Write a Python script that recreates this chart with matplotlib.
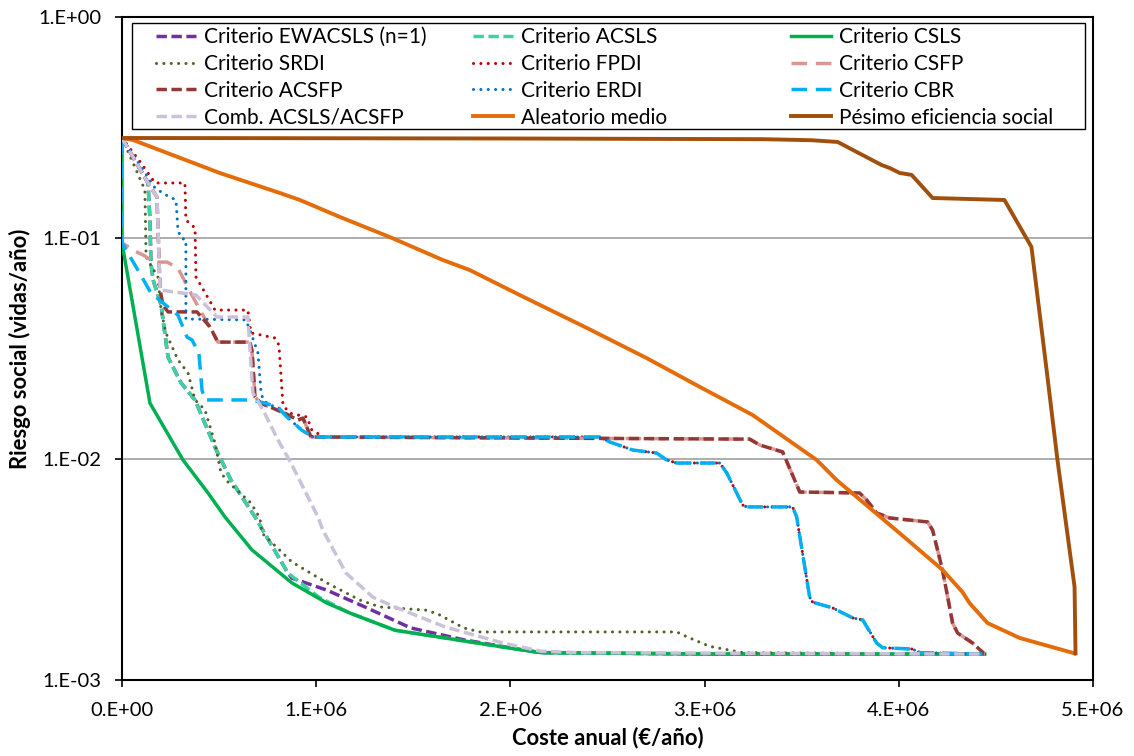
import numpy as np
import matplotlib
matplotlib.use("Agg")
import matplotlib.pyplot as plt
from matplotlib.legend import Legend
from matplotlib.patches import Rectangle
from matplotlib.ticker import FixedLocator, FuncFormatter, NullLocator

plt.rcParams['font.family'] = ['Lato', 'DejaVu Sans']

# Coste anual en millones de €/año, riesgo social en vidas/año

cost_ewacsls = [0, 0.134, 0.144, 0.149, 0.160, 0.201, 0.237, 0.304, 0.376, 0.479, 0.561, 0.685,
                0.854, 0.875, 1.055, 1.251, 1.487, 1.760, 2.059, 2.156, 3.062, 4.442]
risk_ewacsls = [0.2835, 0.1774, 0.1206, 0.0770, 0.0646, 0.0497, 0.0289, 0.0221, 0.0185, 0.0113, 0.00803, 0.00547,
                0.00305, 0.00289, 0.00255, 0.00214, 0.00172, 0.00152, 0.00137, 0.00133, 0.00131, 0.00131]

cost_acsls = [0, 0.134, 0.144, 0.149, 0.160, 0.201, 0.237, 0.304, 0.376, 0.479, 0.561, 0.685,
              0.854, 1.014, 1.173, 1.405, 1.662, 1.961, 2.156, 3.062, 4.442]
risk_acsls = [0.2835, 0.1774, 0.1206, 0.0770, 0.0646, 0.0497, 0.0289, 0.0221, 0.0185, 0.0113, 0.00803, 0.00547,
              0.00305, 0.00237, 0.00201, 0.00168, 0.00155, 0.00141, 0.00133, 0.00131, 0.00131]

cost_csls = [0, 0, 0.144, 0.314, 0.443, 0.530, 0.669, 0.875, 1.055, 1.173, 1.405, 1.662, 1.961, 2.156, 3.062, 4.442]
risk_csls = [0.2835, 0.0949, 0.0179, 0.0099, 0.00702, 0.00547, 0.00388, 0.00275, 0.00223, 0.00201, 0.00168,
             0.00155, 0.00141, 0.00133, 0.00131, 0.00131]

cost_srdi = [0, 0.118, 0.124, 0.185, 0.201, 0.226, 0.288, 0.340, 0.376, 0.427, 0.479, 0.510, 0.546, 0.664,
             0.710, 0.721, 0.875, 1.055, 1.225, 1.328, 1.565, 1.626, 1.760, 1.843, 2.856, 2.908, 3.026, 3.196, 4.442]
risk_srdi = [0.2835, 0.1649, 0.0820, 0.0666, 0.0472, 0.0372, 0.0281, 0.0245, 0.0185, 0.0167, 0.0118, 0.00865,
             0.00787, 0.00632, 0.00541, 0.00462, 0.00342, 0.00275, 0.00230, 0.00214, 0.00207, 0.00199, 0.00172,
             0.00165, 0.00165, 0.00157, 0.00142, 0.00133, 0.00131]

# tramo final compartido por los criterios FPDI, ERDI y CBR
cost_tail_b = [2.460, 2.512, 2.630, 2.753, 2.805, 2.856, 3.078, 3.114, 3.196, 3.217, 3.453, 3.474, 3.541,
               3.556, 3.659, 3.762, 3.814, 3.886, 3.917, 4.071, 4.107, 4.442]
risk_tail_b = [0.01258, 0.01194, 0.01098, 0.01064, 0.00990, 0.00959, 0.00959, 0.00865, 0.00619, 0.00607,
               0.00607, 0.00547, 0.00237, 0.00225, 0.00212, 0.00191, 0.00187, 0.00147, 0.00140, 0.00138,
               0.00133, 0.00131]

cost_fpdi = [0, 0.098, 0.170, 0.324, 0.329, 0.376, 0.381, 0.458, 0.479, 0.648, 0.664, 0.787, 0.808, 0.829,
             0.865, 0.952, 0.978, 1.040]
risk_fpdi = [0.2835, 0.2185, 0.1774, 0.1774, 0.1206, 0.1110, 0.0666, 0.0508, 0.0472, 0.0472, 0.0372, 0.0353,
             0.0328, 0.0175, 0.0161, 0.0155, 0.0135, 0.01258]

cost_erdi = [0, 0.170, 0.226, 0.278, 0.288, 0.304, 0.329, 0.329, 0.638, 0.664, 0.700, 0.715, 0.726, 0.762,
             0.803, 0.849, 0.926, 0.983]
risk_erdi = [0.2835, 0.1684, 0.1565, 0.1485, 0.1087, 0.1000, 0.0980, 0.0430, 0.0426, 0.0372, 0.0302, 0.0205,
             0.0185, 0.0175, 0.0172, 0.0155, 0.0135, 0.01258]

cost_cbr = [0, 0, 0.082, 0.149, 0.237, 0.288, 0.335, 0.360, 0.396, 0.412, 0.427, 0.664, 0.736, 0.803,
            0.849, 0.926, 0.983]
risk_cbr = [0.2835, 0.0949, 0.0716, 0.0564, 0.0487, 0.0448, 0.0356, 0.0346, 0.0302, 0.0205, 0.0185, 0.0185,
            0.0179, 0.0172, 0.0155, 0.0135, 0.01258]

# tramo final compartido por los criterios ACSFP y CSFP
cost_tail_a = [0.659, 0.669, 0.685, 0.715, 0.839, 0.906, 0.932, 0.973, 3.232, 3.284, 3.402, 3.490, 3.798,
               3.834, 3.886, 3.953, 4.148, 4.174, 4.225, 4.277, 4.303, 4.380, 4.442]
risk_tail_a = [0.0338, 0.0311, 0.0191, 0.0179, 0.0161, 0.0150, 0.0153, 0.01258, 0.0123, 0.01157, 0.01076,
               0.00709, 0.00702, 0.00653, 0.00570, 0.00541, 0.00519, 0.00477, 0.00315, 0.00181, 0.00163,
               0.00147, 0.00131]

cost_acsfp = [0, 0.134, 0.180, 0.196, 0.211, 0.237, 0.386, 0.453, 0.494]
risk_acsfp = [0.2835, 0.1774, 0.1533, 0.0582, 0.0497, 0.0463, 0.0463, 0.0396, 0.0338]

cost_csfp = [0, 0, 0.077, 0.118, 0.160, 0.232, 0.288, 0.365, 0.494]
risk_csfp = [0.2835, 0.0949, 0.0864, 0.0829, 0.0778, 0.0778, 0.0731, 0.0541, 0.0338]

cost_comb = [0, 0.134, 0.180, 0.196, 0.381, 0.489, 0.648, 0.674, 0.726, 0.803, 0.870, 1.009, 1.034, 1.153,
             1.292, 1.405, 1.662, 1.961, 2.156, 2.352, 4.442]
risk_comb = [0.2835, 0.1774, 0.1533, 0.0582, 0.0552, 0.0439, 0.0439, 0.0199, 0.0167, 0.0122, 0.00959,
             0.00547, 0.00477, 0.00305, 0.00237, 0.00214, 0.00174, 0.00147, 0.00135, 0.00133, 0.00131]

cost_aleatorio = [0, 0.057, 0.504, 0.813, 0.916, 1.122, 1.379, 1.652, 1.791, 2.048, 2.393, 2.702, 2.975,
                  3.248, 3.577, 3.680, 4.004, 4.225, 4.328, 4.364, 4.457, 4.622, 4.905]
risk_aleatorio = [0.2835, 0.2776, 0.1968, 0.1598, 0.1486, 0.1245, 0.1010, 0.0795, 0.0716, 0.0552, 0.0392,
                  0.0286, 0.0212, 0.0158, 0.0099, 0.00803, 0.00462, 0.00315, 0.00250, 0.00223, 0.00181,
                  0.00155, 0.00132]

cost_pesimo = [0, 2.0, 3.3, 3.55, 3.685, 3.911, 3.953, 4.004, 4.066, 4.174, 4.544, 4.683, 4.761, 4.817,
               4.905, 4.910]
risk_pesimo = [0.2835, 0.282, 0.280, 0.277, 0.272, 0.214, 0.2074, 0.197, 0.193, 0.1517, 0.1486, 0.0911,
               0.0253, 0.0099, 0.00264, 0.00132]

x_ticks = [0, 1e6, 2e6, 3e6, 4e6, 5e6]
y_ticks = [1e-3, 1e-2, 1e-1, 1e0]

DASH = (3.0, 1.3)
LONG_DASH = (4.5, 2.5)
DOT = (0.01, 2.4)

series = [
    ("Criterio EWACSLS (n=1)", cost_ewacsls, risk_ewacsls, "#7030A0", DASH, 2.5),
    ("Criterio ACSLS", cost_acsls, risk_acsls, "#3DD3A0", DASH, 2.5),
    ("Criterio CSLS", cost_csls, risk_csls, "#00B050", None, 2.5),
    ("Criterio SRDI", cost_srdi, risk_srdi, "#4F6228", DOT, 2.2),
    ("Criterio FPDI", cost_fpdi + cost_tail_b, risk_fpdi + risk_tail_b, "#C00000", DOT, 2.2),
    ("Criterio CSFP", cost_csfp + cost_tail_a, risk_csfp + risk_tail_a, "#DA9694", LONG_DASH, 2.5),
    ("Criterio ACSFP", cost_acsfp + cost_tail_a, risk_acsfp + risk_tail_a, "#953735", DASH, 2.5),
    ("Criterio ERDI", cost_erdi + cost_tail_b, risk_erdi + risk_tail_b, "#0070C0", DOT, 2.2),
    ("Criterio CBR", cost_cbr + cost_tail_b, risk_cbr + risk_tail_b, "#00B0F0", LONG_DASH, 2.5),
    ("Comb. ACSLS/ACSFP", cost_comb, risk_comb, "#CCC1DA", DASH, 2.5),
    ("Aleatorio medio", cost_aleatorio, risk_aleatorio, "#E46C0A", None, 2.8),
    ("Pésimo eficiencia social", cost_pesimo, risk_pesimo, "#A0500C", None, 2.8),
]

fig = plt.figure(figsize=(11.34, 7.56), dpi=100)
ax = fig.add_axes([122 / 1134, 1 - 680 / 756, (1093 - 122) / 1134, (680 - 17) / 756])

handles = []
for i, (label, xs, ys, color, dash, lw) in enumerate(series):
    xs = np.asarray(xs) * 1e6
    ys = np.asarray(ys)
    kw = dict(color=color, lw=lw, zorder=3 + i, solid_joinstyle='round')
    if dash is None:
        line, = ax.plot(xs, ys, ls='-', **kw)
    else:
        cap = 'round' if dash is DOT else 'butt'
        line, = ax.plot(xs, ys, ls=(0, dash), dash_capstyle=cap, **kw)
    handles.append(line)

ax.set_yscale('log')
ax.set_xlim(0, 5e6)
ax.set_ylim(1e-3, 1)


def sci_label(v, pos=None):
    if v == 0:
        return "0.E+00"
    exp = int(np.floor(np.log10(v) + 1e-9))
    mant = v / 10 ** exp
    return f"{mant:.0f}.E{exp:+03d}"


ax.xaxis.set_major_locator(FixedLocator(x_ticks))
ax.yaxis.set_major_locator(FixedLocator(y_ticks))
ax.yaxis.set_minor_locator(NullLocator())
ax.xaxis.set_major_formatter(FuncFormatter(sci_label))
ax.yaxis.set_major_formatter(FuncFormatter(sci_label))
ax.tick_params(axis='both', which='major', direction='out', length=5, width=1.2,
               labelsize=14.5, color='black')
ax.tick_params(axis='y', pad=10)
ax.tick_params(axis='x', pad=11)
ax.grid(axis='y', which='major', color='#A6A6A6', lw=1.3, zorder=1)
for sp in ax.spines.values():
    sp.set_color('black')
    sp.set_linewidth(1.5)

ax.set_xlabel("Coste anual (€/año)", fontsize=15.8, fontweight='bold', labelpad=5)
ax.set_ylabel("Riesgo social (vidas/año)", fontsize=15.8, fontweight='bold', labelpad=5)

# Recuadro de la leyenda con tres columnas
frame = Rectangle((10 / 971, 1 - (129 - 17) / 663), (1085 - 132) / 971, (129 - 23) / 663,
                  transform=ax.transAxes, facecolor='white', edgecolor='black', lw=1.0, zorder=20)
ax.add_patch(frame)

col_x = [(156 - 122) / 971, (473 - 122) / 971, (791 - 122) / 971]
for c in range(3):
    hs = [handles[r * 3 + c] for r in range(4)]
    labels = [series[r * 3 + c][0] for r in range(4)]
    leg = Legend(ax, hs, labels, loc='upper left', bbox_to_anchor=(col_x[c], 1 - (27 - 17) / 663),
                 bbox_transform=ax.transAxes, frameon=False, fontsize=15, handlelength=1.92,
                 handletextpad=0.38, labelspacing=0.33, borderpad=0, borderaxespad=0)
    leg.set_zorder(21)
    ax.add_artist(leg)

fig.savefig("out.png", dpi=100)
